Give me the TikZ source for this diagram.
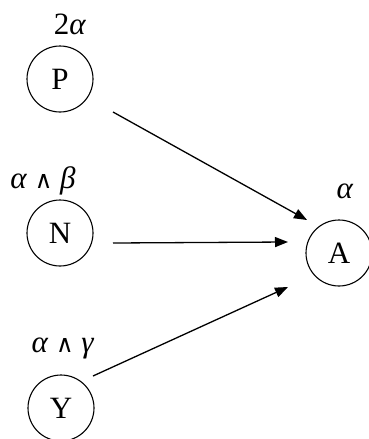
\documentclass[tikz,border=0pt]{standalone}
\usepackage{fontspec}
\setmainfont{Liberation Serif}
\newfontfamily\dvsym{DejaVu Serif}
\usetikzlibrary{arrows.meta,calc}
\tikzset{
  st/.style={draw, circle, line width=1.1pt, minimum size=66pt, inner sep=0pt, font=\fontsize{31}{36}\selectfont},
  lab/.style={font=\fontsize{31}{36}\selectfont, inner sep=0pt},
  arr/.style={line width=1.3pt, -{Triangle[length=13pt,width=10pt]}}
}
\newcommand{\wdg}{{\dvsym\fontsize{24}{28}\selectfont ∧}}
\begin{document}
\begin{tikzpicture}[x=1pt,y=-1pt]
\useasboundingbox (0,0) rectangle (369,439);
\node[st] (P) at (60,79) {P};
\node[st] (N) at (60,233) {N};
\node[st] (Y) at (61,408) {Y};
\node[st] (A) at (339,253) {A};
\node[lab] (lP) at (70,24) {2\textit{α}};
\node[lab] (lN) at (43,181) {\textit{α} \wdg{} \textit{β}};
\node[lab] (lY) at (63,348) {\textit{α} \wdg{} \textit{γ}};
\node[lab] (lA) at (345,191) {\textit{α}};
\draw[arr] ($(P)+(53,33)$) -- ($(A)+(-32,-33)$);
\draw[arr] ($(N)+(53,10)$) -- ($(A)+(-51,-11)$);
\draw[arr] ($(Y)+(32,-32)$) -- ($(A)+(-51,34)$);
\end{tikzpicture}
\end{document}
